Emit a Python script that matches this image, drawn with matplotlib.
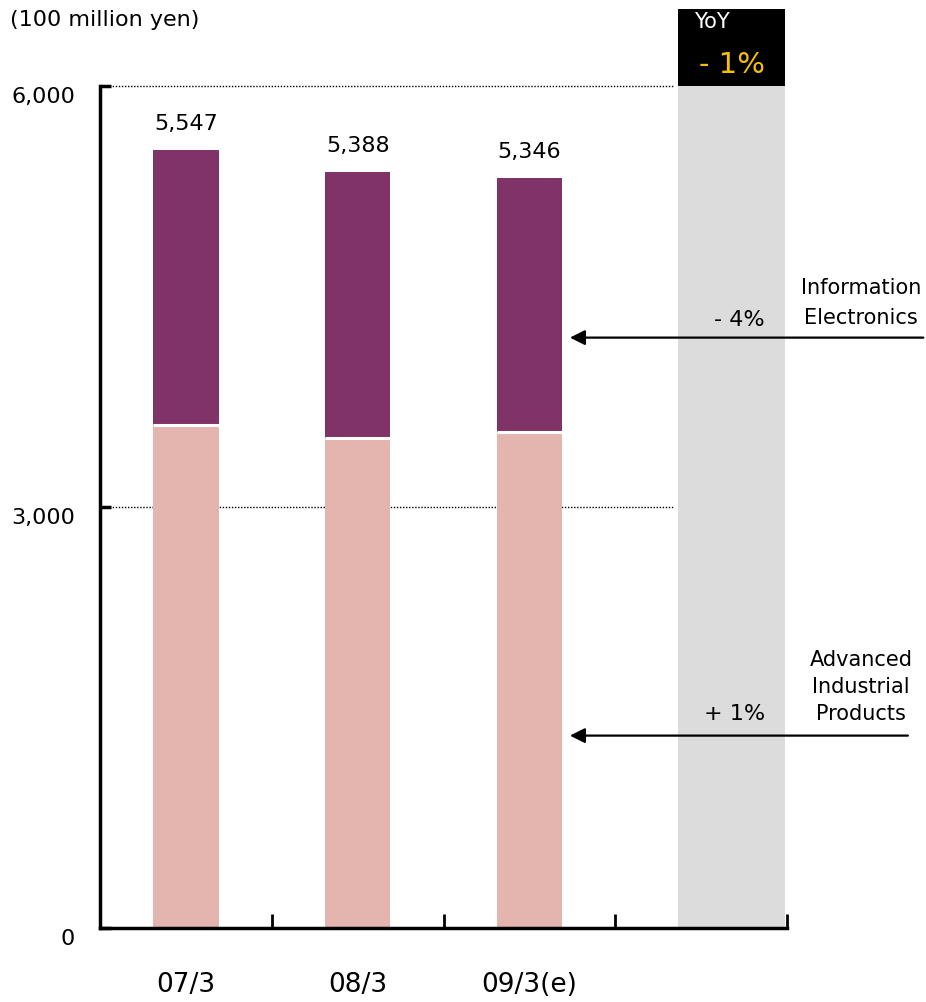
import matplotlib

matplotlib.use("Agg")
import matplotlib.pyplot as plt
import matplotlib.transforms as mtransforms

# data (100 million yen)
periods = ["07/3", "08/3", "09/3(e)"]
totals = [5547, 5388, 5346]
advanced = [3585, 3492, 3535]          # Advanced Industrial Products
info = [t - a for t, a in zip(totals, advanced)]  # Information Electronics
yticks = [0, 3000, 6000]
ytick_labels = ["0", "3,000", "6,000"]
yoy_total = "- 1%"
yoy_info = "- 4%"
yoy_adv = "+ 1%"

PURPLE = "#7f3366"
PINK = "#e4b5ae"
GRAY = "#dcdcdc"
GOLD = "#f5c000"

fig = plt.figure(figsize=(9.26, 10.03), dpi=100)
ax = fig.add_axes([100 / 926, 74 / 1003, 687 / 926, 842 / 1003])
ax.set_xlim(0, 4)
ax.set_ylim(0, 6000)

xs = [0.5, 1.5, 2.5]
w = 0.38
# dotted gridlines (behind bars, stop at the gray band)
for y in (3000, 6000):
    ax.plot([0, 3.34], [y, y], ls=(0, (1, 1.2)), color="black", lw=1, zorder=1,
            clip_on=False)

ax.bar(xs, advanced, w, color=PINK, zorder=2)
ax.bar(xs, info, w, bottom=advanced, color=PURPLE, zorder=2)
for x, a in zip(xs, advanced):
    ax.plot([x - w / 2, x + w / 2], [a, a], color="white", lw=2.2, zorder=3,
            solid_capstyle="butt")

# YoY gray band + black header
ax.axvspan(3.365, 3.99, ymin=0, ymax=1, color=GRAY, zorder=0, lw=0)
ax.add_patch(plt.Rectangle((3.365, 6000), 0.625, 550, color="black",
                           clip_on=False, zorder=3, lw=0))
ax.text(3.56, 6465, "YoY", color="white", fontsize=15, ha="center", va="center")
ax.text(3.68, 6160, yoy_total, color=GOLD, fontsize=21, ha="center",
        va="center")

for x, t in zip(xs, totals):
    ax.text(x, t + 120, f"{t:,}", ha="center", va="bottom", fontsize=16)

# arrows + segment notes
ax.annotate("", xy=(2.72, 4207), xytext=(4.81, 4207),
            arrowprops=dict(arrowstyle="-|>,head_length=0.9,head_width=0.45",
                            color="black", lw=1.6), annotation_clip=False)
ax.annotate("", xy=(2.72, 1371), xytext=(4.72, 1371),
            arrowprops=dict(arrowstyle="-|>,head_length=0.9,head_width=0.45",
                            color="black", lw=1.6), annotation_clip=False)
ax.text(3.87, 4340, yoy_info, ha="right", va="center", fontsize=16)
ax.text(3.87, 1532, yoy_adv, ha="right", va="center", fontsize=16)
ax.text(4.43, 4462, "Information\nElectronics", ha="center", va="center",
        fontsize=15, linespacing=1.6)
ax.text(4.43, 1725, "Advanced\nIndustrial\nProducts", ha="center",
        va="center", fontsize=15, linespacing=1.45)

# axes styling
for s in ("top", "right"):
    ax.spines[s].set_visible(False)
ax.spines["left"].set_linewidth(2.5)
ax.spines["bottom"].set_linewidth(2.5)
ax.set_yticks(yticks)
ax.set_yticklabels(ytick_labels, fontsize=16)
ax.tick_params(axis="y", direction="in", length=8, width=2.5, pad=18)
off = mtransforms.ScaledTranslation(0, -8 / 100, fig.dpi_scale_trans)
for lab in ax.get_yticklabels():
    lab.set_transform(lab.get_transform() + off)
ax.set_xticks([1, 2, 3, 4])
ax.set_xticklabels([])
ax.tick_params(axis="x", direction="in", length=10, width=2)
for x, p in zip(xs, periods):
    ax.text(x, -400, p, ha="center", va="center", fontsize=19)

fig.text(10 / 926, 1 - 20 / 1003, "(100 million yen)", fontsize=16,
         ha="left", va="center")

fig.savefig("out.png", dpi=100)
